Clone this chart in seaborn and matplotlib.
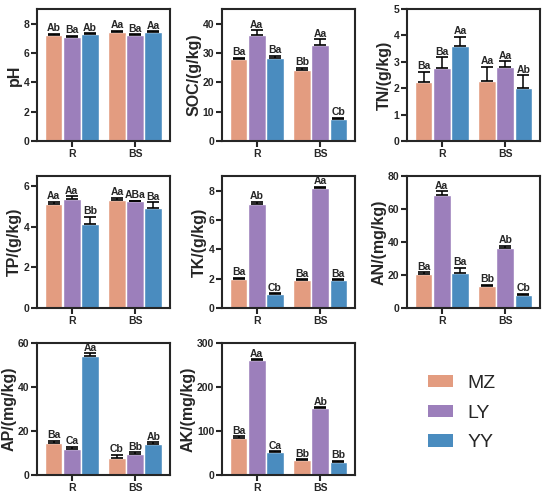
import pandas as pd
import matplotlib.pyplot as plt
import seaborn as sns
from matplotlib.patches import Patch

sites = ['R', 'BS']
species = ['MZ', 'LY', 'YY']
colors = ['#E39C80', '#9C7FBB', '#4A8CBF']

# values per species, ordered [R, BS]
ph_mean = {'MZ': [7.25, 7.45], 'LY': [7.12, 7.22], 'YY': [7.3, 7.42]}
ph_err = {'MZ': [0.05, 0.05], 'LY': [0.05, 0.05], 'YY': [0.04, 0.05]}
ph_lab = {'MZ': ['Ab', 'Aa'], 'LY': ['Ba', 'Ba'], 'YY': ['Ab', 'Aa']}

soc_mean = {'MZ': [27.8, 24.1], 'LY': [36.2, 32.8], 'YY': [28.2, 7.4]}
soc_err = {'MZ': [0.5, 0.8], 'LY': [1.6, 1.8], 'YY': [0.8, 0.5]}
soc_lab = {'MZ': ['Ba', 'Bb'], 'LY': ['Aa', 'Aa'], 'YY': ['Ba', 'Cb']}

tn_mean = {'MZ': [2.22, 2.29], 'LY': [2.77, 2.79], 'YY': [3.58, 2.02]}
tn_err = {'MZ': [0.4, 0.52], 'LY': [0.4, 0.22], 'YY': [0.37, 0.46]}
tn_lab = {'MZ': ['Ba', 'Aa'], 'LY': ['Ba', 'Aa'], 'YY': ['Aa', 'Ab']}

tp_mean = {'MZ': [5.12, 5.32], 'LY': [5.38, 5.25], 'YY': [4.13, 4.95]}
tp_err = {'MZ': [0.1, 0.1], 'LY': [0.12, 0.04], 'YY': [0.37, 0.26]}
tp_lab = {'MZ': ['Aa', 'Aa'], 'LY': ['Aa', 'ABa'], 'YY': ['Bb', 'Ba']}

tk_mean = {'MZ': [1.95, 1.9], 'LY': [7.1, 8.2], 'YY': [0.95, 1.9]}
tk_err = {'MZ': [0.1, 0.08], 'LY': [0.15, 0.08], 'YY': [0.05, 0.05]}
tk_lab = {'MZ': ['Ba', 'Ba'], 'LY': ['Ab', 'Aa'], 'YY': ['Cb', 'Ba']}

an_mean = {'MZ': [20.5, 13.1], 'LY': [68.8, 36.2], 'YY': [21.0, 7.8]}
an_err = {'MZ': [1.2, 1.0], 'LY': [2.0, 1.5], 'YY': [3.5, 1.0]}
an_lab = {'MZ': ['Ba', 'Bb'], 'LY': ['Aa', 'Ab'], 'YY': ['Ba', 'Cb']}

ap_mean = {'MZ': [14.6, 8.0], 'LY': [11.8, 9.8], 'YY': [54.2, 14.0]}
ap_err = {'MZ': [1.0, 1.2], 'LY': [1.2, 0.6], 'YY': [1.2, 1.0]}
ap_lab = {'MZ': ['Ba', 'Cb'], 'LY': ['Ca', 'Bb'], 'YY': ['Aa', 'Ab']}

ak_mean = {'MZ': [85.0, 34.0], 'LY': [261.0, 152.0], 'YY': [52.0, 30.5]}
ak_err = {'MZ': [3.0, 2.0], 'LY': [2.0, 2.5], 'YY': [2.0, 2.0]}
ak_lab = {'MZ': ['Ba', 'Bb'], 'LY': ['Aa', 'Ab'], 'YY': ['Ca', 'Bb']}

panels = [
    ('pH', ph_mean, ph_err, ph_lab, 9, [0, 2, 4, 6, 8]),
    ('SOC/(g/kg)', soc_mean, soc_err, soc_lab, 45, [0, 10, 20, 30, 40]),
    ('TN/(g/kg)', tn_mean, tn_err, tn_lab, 5, [0, 1, 2, 3, 4, 5]),
    ('TP/(g/kg)', tp_mean, tp_err, tp_lab, 6.5, [0, 2, 4, 6]),
    ('TK/(g/kg)', tk_mean, tk_err, tk_lab, 9, [0, 2, 4, 6, 8]),
    ('AN/(mg/kg)', an_mean, an_err, an_lab, 80, [0, 20, 40, 60, 80]),
    ('AP/(mg/kg)', ap_mean, ap_err, ap_lab, 60, [0, 20, 40, 60]),
    ('AK/(mg/kg)', ak_mean, ak_err, ak_lab, 300, [0, 100, 200, 300]),
]

sns.set_theme(style='ticks')
plt.rcParams['font.family'] = ['Liberation Sans', 'DejaVu Sans']

fig, axes = plt.subplots(3, 3, figsize=(5.5, 4.95), dpi=100)
fig.subplots_adjust(left=0.067, right=0.982, top=0.982, bottom=0.04,
                    wspace=0.39, hspace=0.265)

for ax, (ylabel, means, errs, labs, ymax, ticks) in zip(axes.flat, panels):
    rows = []
    for sp in species:
        for i, s in enumerate(sites):
            rows.append({'site': s, 'species': sp, 'value': means[sp][i]})
    df = pd.DataFrame(rows)
    sns.barplot(data=df, x='site', y='value', hue='species', order=sites,
                hue_order=species, palette=colors, errorbar=None,
                width=0.86, gap=0.03, saturation=1, legend=False, ax=ax)

    # one-sided error bars and letters on top of each bar
    k = 0
    for sp in species:
        for i, s in enumerate(sites):
            p = ax.patches[k]
            k += 1
            x = p.get_x() + p.get_width() / 2
            h = p.get_height()
            e = errs[sp][i]
            ax.errorbar(x, h, yerr=[[0], [e]], fmt='none', ecolor='black',
                        elinewidth=1.1, capsize=4, capthick=1.2)
            ax.text(x, h + e + ymax * 0.004, labs[sp][i], ha='center',
                    va='bottom', fontsize=7.5, fontweight='bold')

    ax.set_xlim(-0.55, 1.55)
    ax.set_ylim(0, ymax)
    ax.set_yticks(ticks)
    ax.set_xlabel('')
    ax.set_ylabel(ylabel, fontsize=11.5, fontweight='bold', labelpad=1)
    for sp_ in ax.spines.values():
        sp_.set_linewidth(1.5)
        sp_.set_visible(True)
    ax.tick_params(width=1.5, length=4, labelsize=7.5, pad=1.5)
    for t in ax.get_xticklabels() + ax.get_yticklabels():
        t.set_fontweight('bold')

# legend in the empty ninth cell
leg_ax = axes.flat[8]
leg_ax.axis('off')
handles = [Patch(facecolor=c, edgecolor='none', label=s)
           for c, s in zip(colors, species)]
leg_ax.legend(handles=handles, loc='center', frameon=False, fontsize=14,
              handlelength=1.3, handleheight=0.62, labelspacing=0.65,
              handletextpad=0.72, bbox_to_anchor=(0.41, 0.47))

plt.savefig('out.png', dpi=100)
